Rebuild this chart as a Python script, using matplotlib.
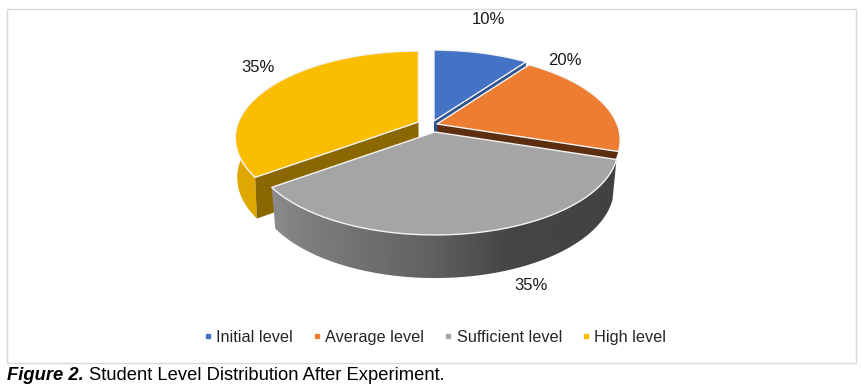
import matplotlib
matplotlib.use("Agg")
import matplotlib.pyplot as plt
import numpy as np
from matplotlib.lines import Line2D
from matplotlib.patches import Polygon, Rectangle

plt.rcParams['font.family'] = ['Liberation Sans', 'DejaVu Sans']

labels = ['Initial level', 'Average level', 'Sufficient level', 'High level']
values = [10, 20, 35, 35]
pct_text = ['10%', '20%', '35%', '35%']
colors = ['#4472C4', '#ED7D31', '#A5A5A5', '#FBBD00']
wall_colors = ['#2F5290', '#5E2E10', None, '#8A6700']

# where each exploded slice has its tip, in pixels
apex = [(434, 121), (437, 124), (435, 132), (418.5, 122)]
label_pos = [(488, 19), (565, 60), (531, 285), (258, 67)]
wall_depth = [39, 10, 0, 39]
shrink_x = [0.978, 0.978, 0.978, 0.99]

RX, RY, K = 180, 84, 0.184
DZ, SY = 39, 1.04


def top_point(deg, tip):
    # perspective view of a circle, angle clockwise from the top
    a = np.radians(deg)
    x, y = np.sin(a), np.cos(a)
    d = 1 + K * y
    return tip[0] + RX * x / d, tip[1] - RY * y / d


def bottom_point(deg, tip, sx, dz=DZ):
    px, py = top_point(deg, tip)
    return tip[0] + sx * (px - tip[0]), tip[1] + dz + SY * (py - tip[1])


fig = plt.figure(figsize=(8.62, 3.89), dpi=100)
ax = fig.add_axes([0, 0, 1, 1])
ax.set_axis_off()

ax.add_patch(Rectangle((7.5, 8.5), 849, 354, fc='white', ec='#D9D9D9', lw=1))

edges = np.cumsum([0] + values) * 3.6
z = 1

# back slices first, each later one covers the earlier
for i in [3, 0, 1, 2]:
    a1, a2 = edges[i], edges[i + 1]
    tip = apex[i]
    angles = np.linspace(a1, a2, 120)
    arc = [top_point(a, tip) for a in angles]
    low = [bottom_point(a, tip, shrink_x[i]) for a in angles]
    side = arc + low[::-1]

    if i == 2:
        # outer side of the big grey slice has a dark gradient
        clip = Polygon(side, transform=ax.transData, fc='none', ec='none')
        ax.add_patch(clip)
        grad = np.interp(np.linspace(265, 620, 256), [265, 300, 430, 510, 620],
                         [0.56, 0.50, 0.38, 0.27, 0.26])
        im = ax.imshow(grad[None, :], extent=(265, 620, 285, 150), cmap='gray', vmin=0, vmax=1,
                       aspect='auto', zorder=z)
        im.set_clip_path(clip)
    elif i == 3:
        ax.add_patch(Polygon(side, fc='#DEA800', ec='none', zorder=z))

    if wall_colors[i] is not None:
        edge_deg = a1 if i == 3 else a2
        d = wall_depth[i]
        wall = [tip, top_point(edge_deg, tip), bottom_point(edge_deg, tip, shrink_x[i], d), (tip[0], tip[1] + d)]
        ax.add_patch(Polygon(wall, fc=wall_colors[i], ec='none', zorder=z + 1))

    ax.add_patch(Polygon([tip] + arc, fc=colors[i], ec='#F4F4F4', lw=1, joinstyle='round', zorder=z + 2))
    z += 3

for txt, (x, y) in zip(pct_text, label_pos):
    ax.text(x, y, txt, ha='center', va='center', fontsize=12, color='#1A1A1A', zorder=30)

handles = [Line2D([], [], ls='none', marker='s', ms=3.4, color=c) for c in colors]
ax.legend(handles, labels, ncol=4, frameon=False, loc='center', bbox_to_anchor=(433 / 862, 1 - 337.5 / 389),
          fontsize=11.7, labelcolor='#262626', handletextpad=0.0, columnspacing=1.0, handlelength=1.0)

ax.text(7, 376, 'Figure 2.', fontsize=13.2, fontweight='bold', fontstyle='italic', va='center', color='black')
ax.text(89, 376, 'Student Level Distribution After Experiment.', fontsize=13.2, va='center', color='black')

ax.set_xlim(0, 862)
ax.set_ylim(389, 0)
fig.savefig('out.png', dpi=100, facecolor='white')
